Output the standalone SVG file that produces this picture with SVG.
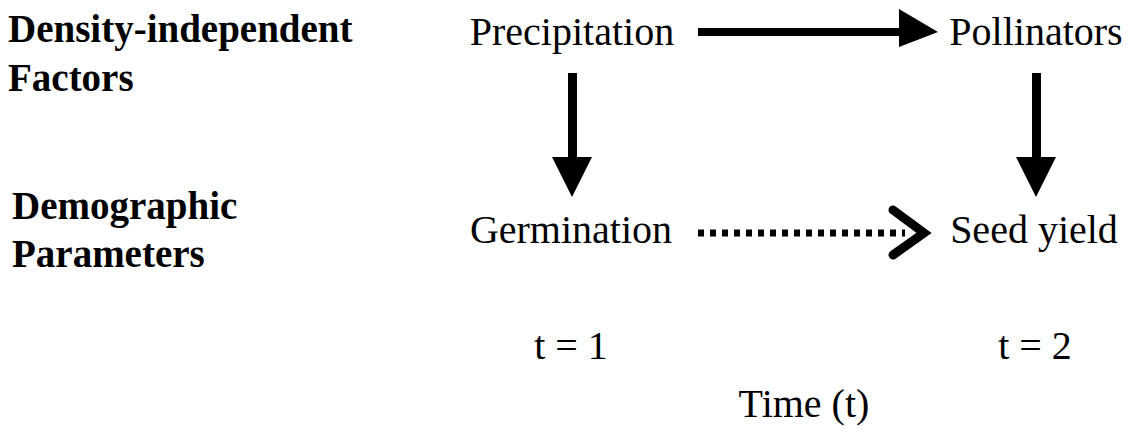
<svg xmlns="http://www.w3.org/2000/svg" width="1136" height="446" viewBox="0 0 1136 446">
<style>
text{font-family:"Liberation Serif","Times New Roman",serif;fill:#000}
.n{font-size:40px;text-anchor:middle}
.b{font-size:39px;font-weight:bold}
</style>
<rect width="1136" height="446" fill="#fff"/>
<g id="labels">
<text class="b" x="8" y="42">Density-independent</text>
<text class="b" x="8" y="91">Factors</text>
<text class="b" x="12" y="219">Demographic</text>
<text class="b" x="12" y="267">Parameters</text>
</g>
<g id="precipitation"><text class="n" x="572" y="45">Precipitation</text></g>
<g id="pollinators"><text class="n" x="1036" y="45">Pollinators</text></g>
<g id="germination"><text class="n" x="571" y="243">Germination</text></g>
<g id="seedyield"><text class="n" x="1034" y="243">Seed yield</text></g>
<g id="t1"><text class="n" x="571" y="359">t = 1</text></g>
<g id="t2"><text class="n" x="1035" y="359">t = 2</text></g>
<g id="time"><text class="n" x="804" y="417">Time (t)</text></g>
<g id="connectors">
<rect x="698" y="28" width="204" height="8"/>
<polygon points="899,9 938,32 899,47"/>
<rect x="568" y="73" width="9" height="86"/>
<polygon points="552,157 592,157 572,197"/>
<rect x="1032" y="73" width="9" height="86"/>
<polygon points="1016,157 1056,157 1036,197"/>
<line x1="698" y1="233" x2="905" y2="233" stroke="#000" stroke-width="7" stroke-dasharray="6 6"/>
<polyline points="893,210 924,233 893,255" fill="none" stroke="#000" stroke-width="9" stroke-linecap="round" stroke-linejoin="miter"/>
</g>
</svg>
